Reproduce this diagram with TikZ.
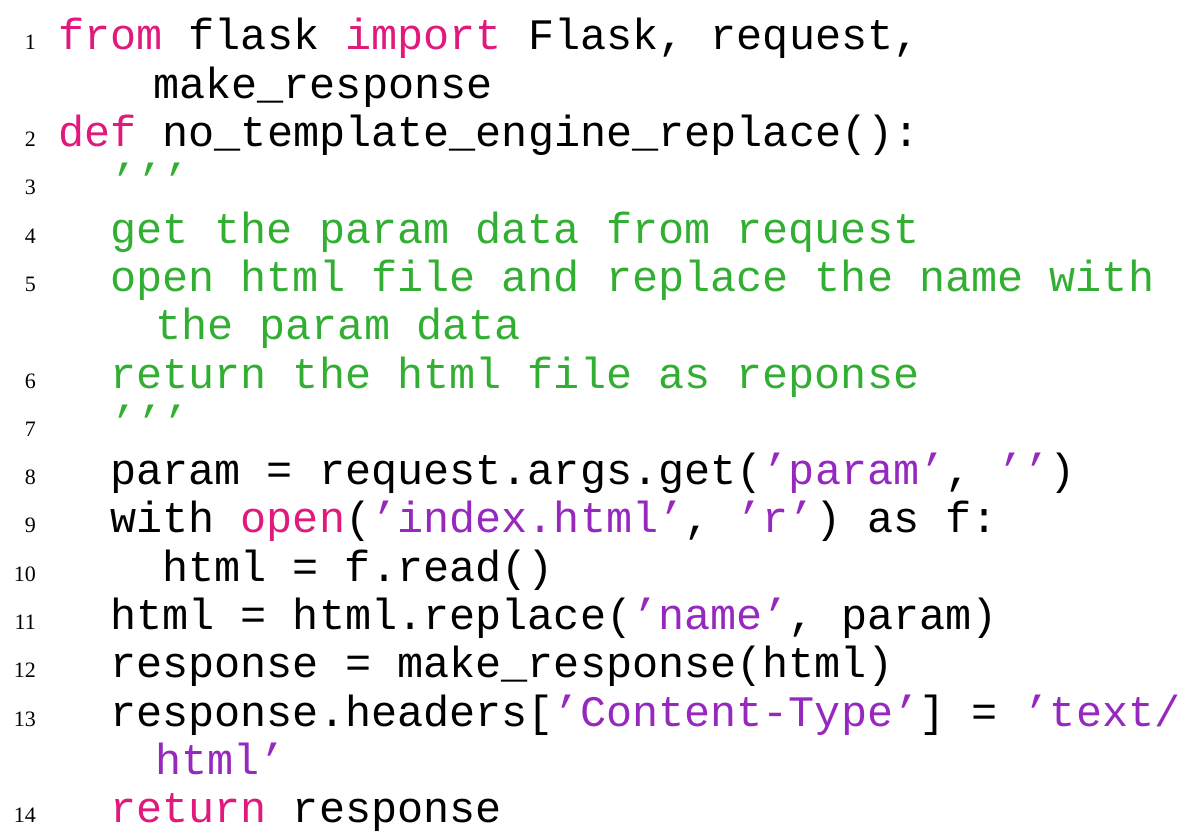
\documentclass[tikz,border=0pt]{standalone}
\usepackage{fontspec}
\newfontfamily\codefont{Liberation Mono}
\setmainfont{Liberation Serif}
\definecolor{kw}{RGB}{225,25,125}
\definecolor{cm}{RGB}{50,175,50}
\definecolor{st}{RGB}{150,40,190}
\newcommand{\K}[1]{\textcolor{kw}{#1}}
\newcommand{\C}[1]{\textcolor{cm}{#1}}
\newcommand{\Sx}[1]{\textcolor{st}{#1}}
\begin{document}
\begin{tikzpicture}[x=1pt,y=1pt,
  code/.style={anchor=base west,inner sep=0pt,font=\codefont\fontsize{43.5}{50}\selectfont},
  num/.style={anchor=base east,inner sep=0pt,font=\fontsize{22}{26}\selectfont}]
\useasboundingbox (0,0) rectangle (1200,836);
\def\r#1{836-50-(#1-1)*48.3}
\node[num] (n1) at (36,{\r1}) {1};
\node[code] (l1) at (58,{\r1}) {\K{from} flask \K{import} Flask, request,};
\node[code] (l1b) at (153,{\r2}) {make\_response};
\node[num] (n2) at (36,{\r3}) {2};
\node[code] (l2) at (58,{\r3}) {\K{def} no\_template\_engine\_replace():};
\node[num] (n3) at (36,{\r4}) {3};
\node[code] (l3) at (110,{\r4}) {\C{’’’}};
\node[num] (n4) at (36,{\r5}) {4};
\node[code] (l4) at (110,{\r5}) {\C{get the param data from request}};
\node[num] (n5) at (36,{\r6}) {5};
\node[code] (l5) at (110,{\r6}) {\C{open html file and replace the name with}};
\node[code] (l5b) at (155,{\r7}) {\C{the param data}};
\node[num] (n6) at (36,{\r8}) {6};
\node[code] (l6) at (110,{\r8}) {\C{return the html file as reponse}};
\node[num] (n7) at (36,{\r9}) {7};
\node[code] (l7) at (110,{\r9}) {\C{’’’}};
\node[num] (n8) at (36,{\r{10}}) {8};
\node[code] (l8) at (110,{\r{10}}) {param = request.args.get(\Sx{’param’}, \Sx{’’})};
\node[num] (n9) at (36,{\r{11}}) {9};
\node[code] (l9) at (110,{\r{11}}) {with \K{open}(\Sx{’index.html’}, \Sx{’r’}) as f:};
\node[num] (n10) at (36,{\r{12}}) {10};
\node[code] (l10) at (162,{\r{12}}) {html = f.read()};
\node[num] (n11) at (36,{\r{13}}) {11};
\node[code] (l11) at (110,{\r{13}}) {html = html.replace(\Sx{’name’}, param)};
\node[num] (n12) at (36,{\r{14}}) {12};
\node[code] (l12) at (110,{\r{14}}) {response = make\_response(html)};
\node[num] (n13) at (36,{\r{15}}) {13};
\node[code] (l13) at (110,{\r{15}}) {response.headers[\Sx{’Content-Type’}] = \Sx{’text/}};
\node[code] (l13b) at (155,{\r{16}}) {\Sx{html’}};
\node[num] (n14) at (36,{\r{17}}) {14};
\node[code] (l14) at (110,{\r{17}}) {\K{return} response};
\end{tikzpicture}
\end{document}
